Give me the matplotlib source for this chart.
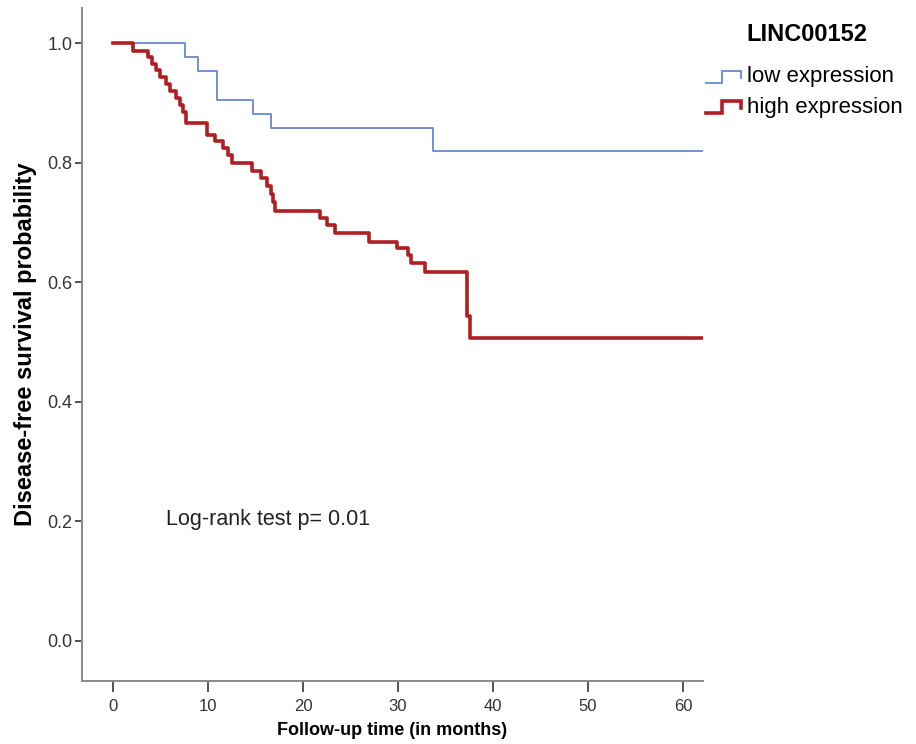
import matplotlib
matplotlib.use("Agg")
import matplotlib.pyplot as plt
from matplotlib.lines import Line2D
from matplotlib.legend_handler import HandlerBase

# Kaplan-Meier steps (time in months, survival after the event)
low_times = [0, 7.6, 8.95, 10.9, 14.7, 16.6, 33.7]
low_surv = [1.0, 0.978, 0.954, 0.905, 0.882, 0.859, 0.820]

high_times = [0, 2.1, 3.7, 4.1, 4.5, 5.0, 5.6, 6.0, 6.6, 7.1, 7.4, 7.7,
              9.85, 10.7, 11.6, 12.1, 12.5, 14.6, 15.6, 16.2, 16.6, 16.8,
              17.05, 21.8, 22.5, 23.4, 26.9, 29.9, 31.1, 31.4, 32.8, 37.3, 37.6]
high_surv = [1.0, 0.988, 0.977, 0.966, 0.955, 0.943, 0.932, 0.920, 0.909, 0.897, 0.885, 0.866,
             0.847, 0.836, 0.825, 0.813, 0.799, 0.787, 0.775, 0.762, 0.748, 0.735,
             0.720, 0.708, 0.696, 0.683, 0.668, 0.657, 0.646, 0.632, 0.618, 0.544, 0.507]

end_time = 62.2
group_labels = ["low expression", "high expression"]
legend_title = "LINC00152"
p_text = "Log-rank test p= 0.01"

x_ticks = [0, 10, 20, 30, 40, 50, 60]
y_ticks = [0.0, 0.2, 0.4, 0.6, 0.8, 1.0]

blue = "#7490D2"
red = "#B01E22"


class StepHandler(HandlerBase):
    # legend key drawn as a little step, like SPSS does
    def create_artists(self, legend, orig_handle, xdescent, ydescent,
                       width, height, fontsize, trans):
        x0, x1 = -xdescent, -xdescent + width
        y0, y1 = -ydescent - 0.05 * height, -ydescent + 0.75 * height
        xm = x0 + 0.47 * width
        xs = [x0, xm, xm, x1, x1]
        ys = [y0, y0, y1, y1, y0 + 0.35 * height]
        ln = Line2D(xs, ys, color=orig_handle.get_color(),
                    lw=orig_handle.get_linewidth(), solid_joinstyle="miter")
        ln.set_transform(trans)
        return [ln]


plt.rcParams['font.family'] = ['Liberation Sans', 'DejaVu Sans']

fig = plt.figure(figsize=(9.16, 7.44), dpi=100)
ax = fig.add_axes([0.0895, 0.085, 0.678, 0.904])

l1, = ax.step(low_times + [end_time], low_surv + [low_surv[-1]], where="post",
              color=blue, lw=1.4)
l2, = ax.step(high_times + [end_time], high_surv + [high_surv[-1]], where="post",
              color=red, lw=2.6)

ax.set_xlim(-3.26, 62.1)
ax.set_ylim(-0.067, 1.059)
ax.set_xticks(x_ticks)
ax.set_yticks(y_ticks)
ax.set_yticklabels([f"{v:.1f}" for v in y_ticks])

for s in ["top", "right"]:
    ax.spines[s].set_visible(False)
for s in ["left", "bottom"]:
    ax.spines[s].set_color("#8a8a8a")
    ax.spines[s].set_linewidth(1.4)
ax.tick_params(axis="both", direction="out", width=1.4, color="#555555",
               labelcolor="#333333")
ax.tick_params(axis="y", length=5, labelsize=13, pad=2)
ax.tick_params(axis="x", length=8, labelsize=12, pad=5)

ax.set_xlabel("Follow-up time (in months)", fontsize=13, fontweight="bold",
              labelpad=6)
ax.set_ylabel("Disease-free survival probability", fontsize=17, fontweight="bold",
              labelpad=7)

ax.text(5.6, 0.203, p_text, fontsize=15.5, color="#222222", va="center", ha="left")

fig.text(0.8145, 0.953, legend_title, fontsize=17, fontweight="bold",
         ha="left", va="center")
leg = fig.legend([l1, l2], group_labels,
                 handler_map={Line2D: StepHandler()},
                 loc="upper left", bbox_to_anchor=(0.771, 0.911),
                 frameon=False, fontsize=16,
                 handlelength=1.55, handletextpad=0.3, labelspacing=0.42,
                 borderpad=0, borderaxespad=0)

fig.savefig("out.png", dpi=100)
